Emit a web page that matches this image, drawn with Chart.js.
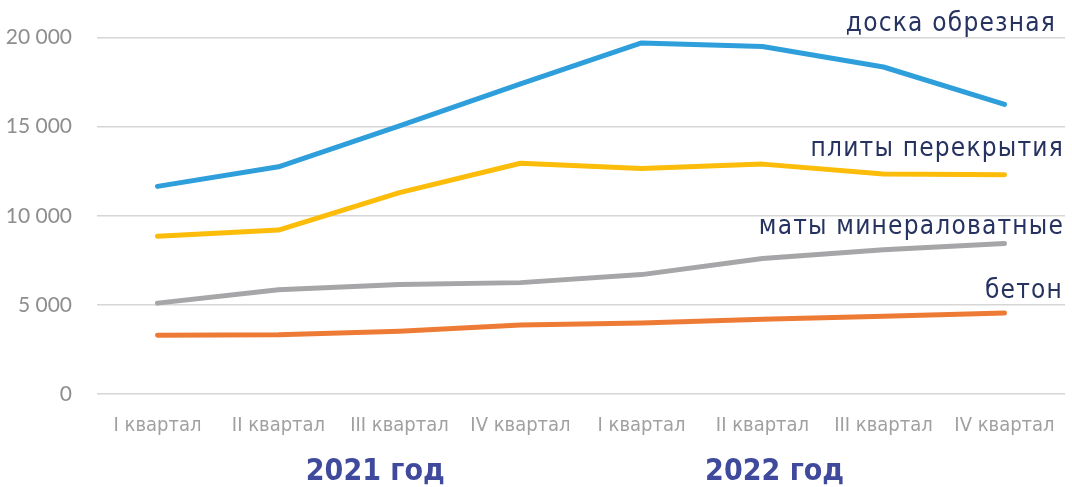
<!DOCTYPE html>
<html>
<head>
<meta charset="utf-8">
<script src="https://cdn.jsdelivr.net/npm/chart.js@4.4.1/dist/chart.umd.min.js"></script>
<style>
  html, body { margin: 0; padding: 0; background: #fff; }
  #wrap { width: 1072px; height: 487px; position: relative; }
</style>
</head>
<body>
<div id="wrap"><canvas id="chart"></canvas></div>
<script>
// quarters on the x axis
const quarters = ["I квартал", "II квартал", "III квартал", "IV квартал",
                  "I квартал", "II квартал", "III квартал", "IV квартал"];
const years = ["2021 год", "2022 год"];

// series
const seriesNames = ["доска обрезная", "плиты перекрытия", "маты минераловатные", "бетон"];
const doska  = [11650, 12750, 15050, 17400, 19700, 19500, 18350, 16250];
const plity  = [8850, 9200, 11300, 12950, 12650, 12900, 12350, 12300];
const maty   = [5100, 5850, 6150, 6250, 6700, 7600, 8100, 8450];
const beton  = [3300, 3320, 3520, 3870, 3990, 4200, 4370, 4550];

const yTicks = [0, 5000, 10000, 15000, 20000];

const colors = ["#2e9fdb", "#fbbc0a", "#a6a6a8", "#ee7b35"];
// value level where each series name sits (right side)
const nameLevels = [20750, 13750, 9350, 5750];
// x position of each year caption, in category index units
const yearAt = [1.8, 5.1];

const fmt = v => v.toString().replace(/\B(?=(\d{3})+(?!\d))/g, " ");

const annotate = {
  id: "annotate",
  afterDraw(chart) {
    const { ctx, chartArea, scales: { x, y } } = chart;
    const rightEdge = [1056, 1064, 1064, 1063];
    ctx.save();
    // series names
    ctx.font = "26px 'DejaVu Sans Condensed', 'DejaVu Sans', sans-serif";
    ctx.fillStyle = "#26325f";
    ctx.textAlign = "right";
    ctx.textBaseline = "middle";
    if ("letterSpacing" in ctx) ctx.letterSpacing = "1.2px";
    seriesNames.forEach((name, i) => {
      ctx.fillText(name, rightEdge[i], y.getPixelForValue(nameLevels[i]));
    });
    // year captions
    if ("letterSpacing" in ctx) ctx.letterSpacing = "0px";
    ctx.font = "bold 30px 'DejaVu Sans Condensed', sans-serif";
    ctx.fillStyle = "#3f4a9c";
    ctx.textAlign = "center";
    years.forEach((t, i) => {
      ctx.fillText(t, x.getPixelForValue(yearAt[i]), chartArea.bottom + 78);
    });
    ctx.restore();
  }
};

new Chart(document.getElementById("chart"), {
  type: "line",
  data: {
    labels: quarters,
    datasets: [doska, plity, maty, beton].map((d, i) => ({
      label: seriesNames[i],
      data: d,
      borderColor: colors[i],
      backgroundColor: colors[i],
      borderWidth: 5,
      borderCapStyle: "round",
      borderJoinStyle: "round",
      pointRadius: 0,
      tension: 0
    }))
  },
  options: {
    responsive: true,
    maintainAspectRatio: false,
    animation: false,
    layout: { padding: { top: 37, right: 7, bottom: 37, left: 0 } },
    plugins: { legend: { display: false }, tooltip: { enabled: false } },
    scales: {
      x: {
        offset: true,
        grid: { display: false },
        border: { display: false },
        ticks: {
          color: "#a0a0a0",
          font: { family: "'DejaVu Sans Condensed', sans-serif", size: 20 },
          padding: 12,
          maxRotation: 0,
          autoSkip: false
        }
      },
      y: {
        min: 0,
        max: 20000,
        afterBuildTicks: axis => { axis.ticks = yTicks.map(v => ({ value: v })); },
        afterFit: axis => { axis.width = 97; },
        grid: { color: "#d6d6d6", lineWidth: 1.5, drawTicks: false },
        border: { display: false },
        ticks: {
          color: "#8e8e8e",
          font: { family: "Lato, sans-serif", size: 21 },
          padding: 25,
          callback: v => fmt(v)
        }
      }
    }
  },
  plugins: [annotate]
});
</script>
</body>
</html>
